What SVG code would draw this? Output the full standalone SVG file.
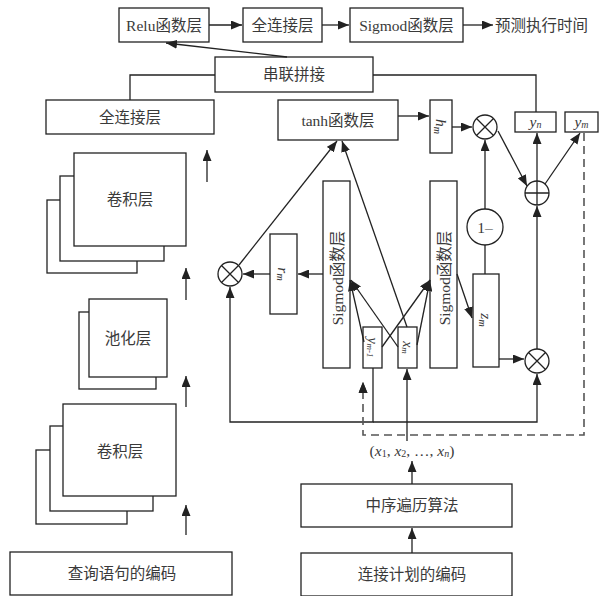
<svg xmlns="http://www.w3.org/2000/svg" width="601" height="596" viewBox="0 0 601 596">
<style>
.b{fill:#fff;stroke:#222;stroke-width:1.3}
.l{fill:none;stroke:#222;stroke-width:1.3}
.d{fill:none;stroke:#555;stroke-width:1.6;stroke-dasharray:8 5}
.t{font-family:"Liberation Serif","Noto Sans CJK SC",serif;font-size:15.5px;fill:#3a3a3a;text-anchor:middle;dominant-baseline:central}
.i{font-style:italic}
.s{font-size:10px}
</style>
<defs>
<marker id="a" markerUnits="userSpaceOnUse" markerWidth="11" markerHeight="9" refX="11" refY="4.5" orient="auto"><path d="M0,0L11,4.5L0,9z" fill="#222"/></marker>
</defs>

<g id="relu"><rect class="b" x="119" y="8" width="90" height="34"/><text class="t" x="164" y="25">Relu函数层</text></g>
<g id="fc-top"><rect class="b" x="243" y="8" width="79" height="34"/><text class="t" x="282.5" y="25">全连接层</text></g>
<g id="sigmod-top"><rect class="b" x="350" y="8" width="113" height="34"/><text class="t" x="406.5" y="25">Sigmod函数层</text></g>
<g id="predict"><text class="t" x="495" y="25" style="text-anchor:start">预测执行时间</text></g>
<g id="concat"><rect class="b" x="215" y="57" width="158" height="35"/><text class="t" x="294" y="74.5">串联拼接</text></g>
<g id="fc-left"><rect class="b" x="46" y="100" width="168" height="34"/><text class="t" x="130" y="117">全连接层</text></g>

<g id="conv-top">
<rect class="b" x="47" y="200" width="90" height="73"/>
<rect class="b" x="60" y="176" width="104" height="85"/>
<rect class="b" x="74" y="153" width="112" height="93"/>
<text class="t" x="130" y="199.5">卷积层</text>
</g>
<g id="pool">
<rect class="b" x="79" y="312" width="77" height="77"/>
<rect class="b" x="89" y="299" width="78" height="78"/>
<text class="t" x="128" y="338">池化层</text>
</g>
<g id="conv-bottom">
<rect class="b" x="36" y="450" width="91" height="74"/>
<rect class="b" x="50" y="426" width="103" height="85"/>
<rect class="b" x="63" y="404" width="113" height="92"/>
<text class="t" x="120" y="451">卷积层</text>
</g>
<g id="query"><rect class="b" x="10" y="552" width="222" height="43"/><text class="t" x="122" y="573">查询语句的编码</text></g>

<g id="tanh"><rect class="b" x="278" y="100" width="120" height="40"/><text class="t" x="338" y="120">tanh函数层</text></g>
<g id="hm"><rect class="b" x="430" y="100" width="22" height="53"/><text class="t i" transform="translate(441,126.5) rotate(90)" x="0" y="0">h<tspan class="s" dy="3">m</tspan></text></g>
<g id="yn"><rect class="b" x="515" y="112" width="41" height="20"/><text class="t i" x="535.5" y="121">y<tspan class="s" dy="3">n</tspan></text></g>
<g id="ym"><rect class="b" x="565" y="112" width="33" height="20"/><text class="t i" x="581.5" y="121">y<tspan class="s" dy="3">m</tspan></text></g>

<g id="sig-left"><rect class="b" x="323" y="181" width="27" height="187"/><text class="t" transform="translate(337,278) rotate(-90)" x="0" y="0">Sigmod函数层</text></g>
<g id="sig-right"><rect class="b" x="430" y="181" width="27" height="187"/><text class="t" transform="translate(444,278) rotate(-90)" x="0" y="0">Sigmod函数层</text></g>
<g id="rm"><rect class="b" x="270" y="234" width="27" height="80"/><text class="t i" transform="translate(283.5,274) rotate(90)" x="0" y="0">r<tspan class="s" dy="3">m</tspan></text></g>
<g id="zm"><rect class="b" x="473" y="274" width="26" height="93"/><text class="t i" transform="translate(486,320) rotate(90)" x="0" y="0">z<tspan class="s" dy="3">m</tspan></text></g>
<g id="ym1"><rect class="b" x="363" y="327" width="19" height="41"/><text class="t i" transform="translate(372.5,347.5) rotate(90)" x="0" y="0" style="font-size:14px">y<tspan class="s" dy="3" style="font-size:9px">m-1</tspan></text></g>
<g id="xm"><rect class="b" x="398" y="327" width="19" height="41"/><text class="t i" transform="translate(407.5,347.5) rotate(90)" x="0" y="0" style="font-size:14px">x<tspan class="s" dy="3" style="font-size:9px">m</tspan></text></g>

<g id="mul1"><circle class="b" cx="485" cy="127" r="12"/><path class="l" d="M476.5,118.5L493.5,135.5M493.5,118.5L476.5,135.5"/></g>
<g id="one-minus"><circle class="b" cx="485" cy="227" r="18"/><text class="t" x="485" y="227">1–</text></g>
<g id="plus"><circle class="b" cx="537" cy="193" r="12"/><path class="l" d="M525,193H549M537,181V205"/></g>
<g id="mul2"><circle class="b" cx="537" cy="361" r="12"/><path class="l" d="M528.5,352.5L545.5,369.5M545.5,352.5L528.5,369.5"/></g>
<g id="mulL"><circle class="b" cx="230" cy="274" r="12"/><path class="l" d="M221.5,265.5L238.5,282.5M238.5,265.5L221.5,282.5"/></g>

<g id="seq"><text class="t" x="412" y="450">(<tspan class="i">x</tspan><tspan class="s" dy="3">1</tspan><tspan dy="-3">, </tspan><tspan class="i">x</tspan><tspan class="s" dy="3">2</tspan><tspan dy="-3">, …, </tspan><tspan class="i">x</tspan><tspan class="s i" dy="3">n</tspan><tspan dy="-3">)</tspan></text></g>
<g id="inorder"><rect class="b" x="301" y="484" width="211" height="43"/><text class="t" x="412" y="505">中序遍历算法</text></g>
<g id="plan"><rect class="b" x="301" y="553" width="211" height="43"/><text class="t" x="412" y="574">连接计划的编码</text></g>

<g id="connectors">
<path class="l" d="M209,25H242" marker-end="url(#a)"/>
<path class="l" d="M322,25H349" marker-end="url(#a)"/>
<path class="l" d="M463,25H493" marker-end="url(#a)"/>
<path class="l" d="M287,57L166,43" marker-end="url(#a)"/>
<path class="l" d="M215,75H130V100"/>
<path class="l" d="M373,75H536V112"/>
<path class="l" d="M207,182V150" marker-end="url(#a)"/>
<path class="l" d="M186,300V268" marker-end="url(#a)"/>
<path class="l" d="M186,407V376" marker-end="url(#a)"/>
<path class="l" d="M186,535V505" marker-end="url(#a)"/>
<path class="l" d="M398,116H429" marker-end="url(#a)"/>
<path class="l" d="M452,127H472" marker-end="url(#a)"/>
<path class="l" d="M485,209V140" marker-end="url(#a)"/>
<path class="l" d="M485,245V274"/>
<path class="l" d="M498,131L527,186" marker-end="url(#a)"/>
<path class="l" d="M537,181V133" marker-end="url(#a)"/>
<path class="l" d="M545,184L580,133" marker-end="url(#a)"/>
<path class="l" d="M499,359H524" marker-end="url(#a)"/>
<path class="l" d="M537,349V206" marker-end="url(#a)"/>
<path class="l" d="M373,368V422H230V287" marker-end="url(#a)"/>
<path class="l" d="M373,422H537V374" marker-end="url(#a)"/>
<path class="l" d="M407,441V369" marker-end="url(#a)"/>
<path class="l" d="M323,274H298" marker-end="url(#a)"/>
<path class="l" d="M270,274H243" marker-end="url(#a)"/>
<path class="l" d="M239,265L337,141" marker-end="url(#a)"/>
<path class="l" d="M407,327L342,141" marker-end="url(#a)"/>
<path class="l" d="M364,342L350,280" marker-end="url(#a)"/>
<path class="l" d="M398,347L351,280" marker-end="url(#a)"/>
<path class="l" d="M382,347L430,280" marker-end="url(#a)"/>
<path class="l" d="M417,345L430,280" marker-end="url(#a)"/>
<path class="l" d="M457,274L472,318" marker-end="url(#a)"/>
<path class="d" d="M584,133V435H363V393"/>
<path class="l" d="M363,394V382" marker-end="url(#a)" style="stroke:none"/>
<path d="M358.5,393L363,382L367.5,393z" fill="#222"/>
<path class="l" d="M412,484V461" marker-end="url(#a)"/>
<path class="l" d="M412,553V528" marker-end="url(#a)"/>
</g>
</svg>
